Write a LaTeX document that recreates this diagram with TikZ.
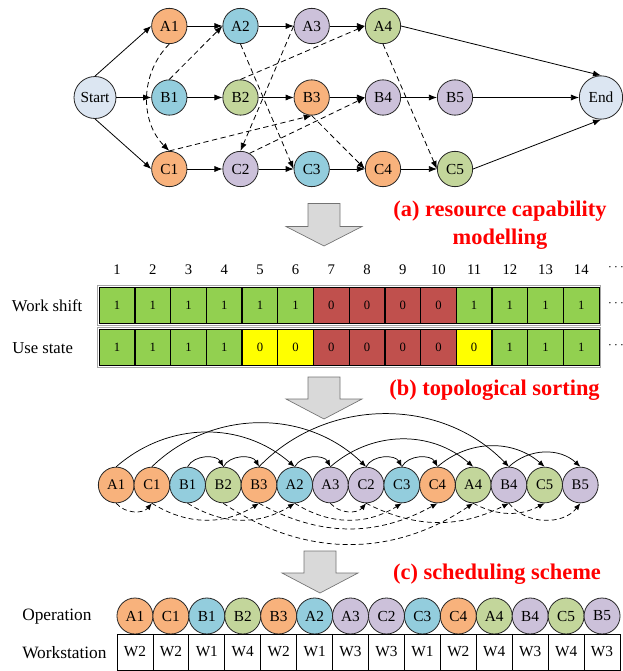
\documentclass[tikz,border=0pt]{standalone}
\usepackage{fontspec}
\setmainfont{Liberation Serif}
\usetikzlibrary{arrows.meta}

\definecolor{cO}{HTML}{F8B27C}
\definecolor{cB}{HTML}{93CDDD}
\definecolor{cP}{HTML}{CCC1DA}
\definecolor{cG}{HTML}{C3D69B}
\definecolor{cS}{HTML}{DCE6F2}
\definecolor{cellG}{HTML}{92D050}
\definecolor{cellR}{HTML}{C0504D}
\definecolor{cellY}{HTML}{FFFF00}
\definecolor{arrowgray}{HTML}{D9D9D9}

\begin{document}
\begin{tikzpicture}[x=0.75pt,y=-0.75pt,
  opnode/.style={circle, draw=black!85, line width=0.6pt, inner sep=0pt,
    minimum size=26.5pt, font=\fontsize{11.5}{13}\selectfont},
  seqnode/.style={circle, draw=black!85, line width=0.6pt, inner sep=0pt,
    minimum size=26.8pt, font=\fontsize{11}{12}\selectfont},
  schnode/.style={circle, draw=black!85, line width=0.6pt, inner sep=0pt,
    minimum size=27pt, font=\fontsize{11.5}{12}\selectfont},
  cellbox/.style={rectangle, draw=black, line width=0.9pt, inner sep=0pt,
    minimum width=26.78pt, minimum height=27pt, font=\fontsize{9.5}{10}\selectfont},
  wsbox/.style={rectangle, draw=black, line width=0.6pt, inner sep=0pt,
    minimum width=26.95pt, minimum height=27pt, font=\fontsize{11.5}{12}\selectfont},
  rowlabel/.style={anchor=west, inner sep=0pt, font=\fontsize{12.5}{14}\selectfont},
  steplabel/.style={text=red, inner sep=0pt, align=center,
    font=\fontsize{16.8}{21}\selectfont\bfseries},
  flow/.style={-{Latex[length=6pt,width=4.6pt]}, line width=0.6pt},
  share/.style={flow, dash pattern=on 4pt off 2.6pt},
  seqflow/.style={-{Latex[length=5pt,width=4pt]}, line width=0.55pt},
  seqshare/.style={seqflow, dash pattern=on 3.6pt off 2.4pt},
  bigarrow/.style={fill=arrowgray, draw=black!55, line width=0.5pt, line join=miter}
]
\useasboundingbox (0,0) rectangle (623,671);

% ---------- operation network ----------
\node[opnode, fill=cS, minimum size=31.5pt] (S) at (95,97.5) {Start};
\node[opnode, fill=cS, minimum size=32.5pt] (E) at (601,97.5) {End};

\node[opnode, fill=cO] (A1) at (169.3,26) {A1};
\node[opnode, fill=cB] (A2) at (240.5,26) {A2};
\node[opnode, fill=cP] (A3) at (311.7,26) {A3};
\node[opnode, fill=cG] (A4) at (383,26) {A4};

\node[opnode, fill=cB] (B1) at (169.3,97.5) {B1};
\node[opnode, fill=cG] (B2) at (240.5,97.5) {B2};
\node[opnode, fill=cO] (B3) at (311.7,97.5) {B3};
\node[opnode, fill=cP] (B4) at (383,97.5) {B4};
\node[opnode, fill=cP] (B5) at (455,97.5) {B5};

\node[opnode, fill=cO] (C1) at (169.3,169) {C1};
\node[opnode, fill=cP] (C2) at (240.5,169) {C2};
\node[opnode, fill=cB] (C3) at (311.7,169) {C3};
\node[opnode, fill=cO] (C4) at (383,169) {C4};
\node[opnode, fill=cG] (C5) at (455,169) {C5};

% job routes
\draw[flow] (S.north) -- (A1.west);
\draw[flow] (S.east) -- (B1.west);
\draw[flow] (S.south) -- (C1.west);
\draw[flow] (A1) -- (A2);
\draw[flow] (A2) -- (A3);
\draw[flow] (A3) -- (A4);
\draw[flow] (A4.east) -- (E.north);
\draw[flow] (B1) -- (B2);
\draw[flow] (B2) -- (B3);
\draw[flow] (B3) -- (B4);
\draw[flow] (B4) -- (B5);
\draw[flow] (B5) -- (E);
\draw[flow] (C1) -- (C2);
\draw[flow] (C2) -- (C3);
\draw[flow] (C3) -- (C4);
\draw[flow] (C4) -- (C5);
\draw[flow] (C5.east) -- (E.south);

% shared workstation links
\draw[share] (A1.south) to[bend right=45] (C1.north);
\draw[share] (B1.north) -- (A2.west);
\draw[share] (B2.north) -- (A4.west);
\draw[share] (A2.south) -- (C3.west);
\draw[share] (A3.west) -- (C2.north);
\draw[share] (C1.north) -- (B3.south);
\draw[share] (C2.60) -- (B4.west);
\draw[share] (B3.south) -- (C4.west);
\draw[share] (A4.south) -- (C5.west);

% ---------- step arrows ----------
\draw[bigarrow] (308,203.5) -- (340,203.5) -- (340,226.5) -- (362,226.5)
  -- (324,246) -- (286,226.5) -- (308,226.5) -- cycle;
\draw[bigarrow] (308,377) -- (340,377) -- (340,399) -- (362,399)
  -- (324,419) -- (286,399) -- (308,399) -- cycle;
\draw[bigarrow] (304,551) -- (336,551) -- (336,573) -- (358,573)
  -- (320,593) -- (282,573) -- (304,573) -- cycle;

\node[steplabel] (la) at (500,225) {(a) resource capability\\modelling};
\node[steplabel] (lb) at (494.5,390) {(b) topological sorting};
\node[steplabel] (lc) at (497,574) {(c) scheduling scheme};

% ---------- capability timeline ----------
\node[rowlabel] (lws) at (11.7,306) {Work shift};
\node[rowlabel] (lus) at (12,348) {Use state};

\draw[black!35, line width=0.5pt] (97.6,285.6) rectangle (600.7,325.2);
\draw[black!35, line width=0.5pt] (97.6,327.4) rectangle (600.7,367);

\foreach \v/\c [count=\i] in {1/cellG,1/cellG,1/cellG,1/cellG,1/cellG,1/cellG,
    0/cellR,0/cellR,0/cellR,0/cellR,1/cellG,1/cellG,1/cellG,1/cellG} {
  \node[font=\fontsize{11}{12}\selectfont, inner sep=0pt] (num\i) at ({99.3+35.7*(\i-0.5)},270) {\i};
  \node[cellbox, fill=\c] (ws\i) at ({99.3+35.7*(\i-0.5)},305.4) {\v};
}
\foreach \v/\c [count=\i] in {1/cellG,1/cellG,1/cellG,1/cellG,0/cellY,0/cellY,
    0/cellR,0/cellR,0/cellR,0/cellR,0/cellY,1/cellG,1/cellG,1/cellG} {
  \node[cellbox, fill=\c] (us\i) at ({99.3+35.7*(\i-0.5)},347.2) {\v};
}
\node[inner sep=0pt] (d1) at (616,268) {$\cdots$};
\node[inner sep=0pt] (d2) at (616,303.5) {$\cdots$};
\node[inner sep=0pt] (d3) at (616,345.5) {$\cdots$};

% ---------- topological sequence ----------
\foreach \n/\c [count=\i from 0] in {A1/cO,C1/cO,B1/cB,B2/cG,B3/cO,A2/cB,A3/cP,
    C2/cP,C3/cB,C4/cO,A4/cG,B4/cP,C5/cG,B5/cP} {
  \node[seqnode, fill=\c] (t\n) at ({116.2+35.7*\i},485) {\n};
}

% job precedence (above)
\draw[seqflow] (tA1.north) to[bend left=41] (tA2.north);
\draw[seqflow] (tC1.north) to[bend left=44] (tC2.north);
\draw[seqflow] (tB1.north) to[bend left=62] (tB2.north);
\draw[seqflow] (tB2.north) to[bend left=62] (tB3.north);
\draw[seqflow] (tB3.north) to[bend left=46] (tB4.north);
\draw[seqflow] (tA2.north) to[bend left=62] (tA3.north);
\draw[seqflow] (tA3.north) to[bend left=41] (tA4.north);
\draw[seqflow] (tC2.north) to[bend left=62] (tC3.north);
\draw[seqflow] (tC3.north) to[bend left=62] (tC4.north);
\draw[seqflow] (tC4.north) to[bend left=41] (tC5.north);
\draw[seqflow] (tB4.north) to[bend left=43] (tB5.north);

% workstation order (below)
\draw[seqshare] (tA1.south) to[bend right=50] (tC1.south);
\draw[seqshare] (tC1.south) to[bend right=32] (tB3.south);
\draw[seqshare] (tB3.south) to[bend right=29] (tC4.south);
\draw[seqshare] (tB1.south) to[bend right=32] (tA2.south);
\draw[seqshare] (tA2.south) to[bend right=32] (tC3.south);
\draw[seqshare] (tB2.south) to[bend right=34] (tA4.south);
\draw[seqshare] (tA4.south) to[bend right=28] (tC5.south);
\draw[seqshare] (tA3.south) to[bend right=50] (tC2.south);
\draw[seqshare] (tC2.south) to[bend right=27] (tB4.south);
\draw[seqshare] (tB4.south) to[bend right=52] (tB5.south);

% ---------- scheduling scheme ----------
\node[rowlabel, font=\fontsize{13}{15}\selectfont] (lop) at (22,617) {Operation};
\node[rowlabel, font=\fontsize{13}{15}\selectfont] (lwk) at (22,653) {Workstation};

\foreach \n/\c/\w [count=\i from 0] in {A1/cO/W2,C1/cO/W2,B1/cB/W1,B2/cG/W4,B3/cO/W2,
    A2/cB/W1,A3/cP/W3,C2/cP/W3,C3/cB/W1,C4/cO/W2,A4/cG/W4,B4/cP/W3,C5/cG/W4,B5/cP/W3} {
  \node[schnode, fill=\c] (s\n) at ({134.96+35.93*\i},616) {\n};
  \node[wsbox] (w\n) at ({134.96+35.93*\i},652) {\w};
}
\end{tikzpicture}
\end{document}
